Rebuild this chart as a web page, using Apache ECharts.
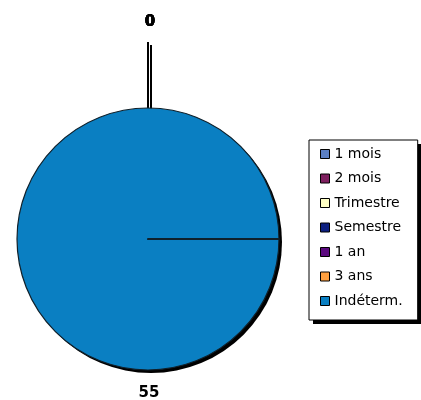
<!DOCTYPE html>
<html>
<head>
<meta charset="utf-8">
<script src="https://cdn.jsdelivr.net/npm/echarts@6/dist/echarts.min.js"></script>
<style>html,body{margin:0;padding:0;background:#fff}#c{width:421px;height:400px}</style>
</head>
<body>
<div id="c"></div>
<script>
var categories = ['1 mois', '2 mois', 'Trimestre', 'Semestre', '1 an', '3 ans', 'Indéterm.'];
var values = [0, 0, 0, 0, 0, 0, 55];
var colors = ['#5b7fc4', '#7e1f5f', '#ffffc4', '#0c1f80', '#5c0a80', '#ffa040', '#0a7fc2'];

var CX = 148, CY = 239, R = 131;

// draw the non-zero slice first so the zero slices' guide lines sit on top of it
var order = [];
values.forEach(function (v, i) { if (v > 0) order.push(i); });
values.forEach(function (v, i) { if (v <= 0) order.push(i); });
var firstZero = order.filter(function (i) { return values[i] === 0; })[0];

var data = order.map(function (i) {
  var item = { name: categories[i], value: values[i], itemStyle: { color: colors[i] } };
  if (values[i] > 0) {
    item.labelLine = { show: false };
  } else if (i === firstZero) {
    item.labelLine = { lineStyle: { width: 2.5, shadowColor: 'rgba(0,0,0,0)', shadowOffsetX: 0, shadowOffsetY: 0 } };
  }
  return item;
});
var shadowData = order.map(function (i) {
  return { name: categories[i], value: values[i] };
});

var legendBase = {
  orient: 'vertical',
  padding: [7, 15, 12, 11],
  itemWidth: 9,
  itemHeight: 9,
  itemGap: 10.5,
  itemTextGap: 10,
  icon: 'rect',
  borderRadius: 0,
  data: categories
};

var chart = echarts.init(document.getElementById('c'), null, { renderer: 'canvas' });
chart.setOption({
  animation: false,
  backgroundColor: '#fff',
  legend: [
    Object.assign({}, legendBase, {
      left: 309, top: 140, z: 6,
      backgroundColor: '#fff',
      borderColor: '#000',
      borderWidth: 1,
      itemStyle: { borderColor: '#000', borderWidth: 1 },
      textStyle: { fontFamily: 'DejaVu Sans', fontSize: 14, color: '#000', lineHeight: 14 }
    }),
    Object.assign({}, legendBase, {
      left: 313, top: 144, z: 3,
      backgroundColor: '#000',
      borderWidth: 0,
      itemStyle: { opacity: 0, borderWidth: 0 },
      textStyle: { fontFamily: 'DejaVu Sans', fontSize: 14, color: 'rgba(0,0,0,0)', lineHeight: 14 }
    })
  ],
  series: [{
    type: 'pie',
    z: 3,
    center: [CX, CY],
    radius: R,
    startAngle: 0,
    clockwise: true,
    avoidLabelOverlap: false,
    silent: true,
    itemStyle: { borderColor: '#10202a', borderWidth: 1.2 },
    label: {
      show: true,
      position: 'outside',
      formatter: '{c}',
      fontFamily: 'DejaVu Sans',
      fontWeight: 'bold',
      fontSize: 15,
      color: '#000'
    },
    labelLine: {
      show: true,
      lineStyle: { color: '#000', width: 2, shadowColor: '#000', shadowOffsetX: 3, shadowOffsetY: 3, shadowBlur: 0 }
    },
    labelLayout: function (p) {
      var src = order[p.dataIndex];
      if (values[src] === 0) {
        var pts = src === firstZero
          ? [[CX, CY], [CX + R / 2, CY], [CX + R, CY]]
          : [[CX, CY - R], [CX, 75], [CX, 42]];
        return {
          x: CX + 2, y: 22, align: 'center', verticalAlign: 'middle',
          labelLinePoints: pts
        };
      }
      return { x: CX + 1, y: 393, align: 'center', verticalAlign: 'middle' };
    },
    data: data
  }, {
    type: 'pie',
    z: 1,
    center: [CX + 3, CY + 3],
    radius: R,
    startAngle: 0,
    clockwise: true,
    silent: true,
    label: { show: false },
    labelLine: { show: false },
    itemStyle: { color: '#000', borderWidth: 0 },
    data: shadowData
  }]
});
</script>
</body>
</html>
